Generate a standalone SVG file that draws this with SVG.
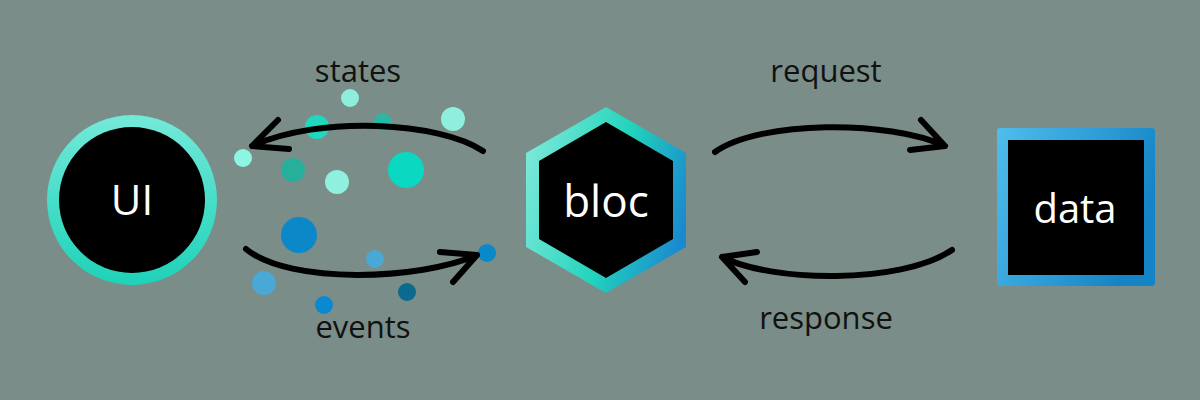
<svg xmlns="http://www.w3.org/2000/svg" width="1200" height="400" viewBox="0 0 1200 400">
<defs>
<linearGradient id="gUI" x1="0" y1="0" x2="0" y2="1">
<stop offset="0" stop-color="#74e9d9"/><stop offset="1" stop-color="#1ed2b8"/>
</linearGradient>
<linearGradient id="gHex" x1="0" y1="0.3" x2="1" y2="0.6">
<stop offset="0" stop-color="#7ae8d8"/><stop offset="0.55" stop-color="#22d4bc"/><stop offset="1" stop-color="#1a8ad0"/>
</linearGradient>
<linearGradient id="gData" x1="0" y1="0" x2="1" y2="0.4">
<stop offset="0" stop-color="#50bdec"/><stop offset="1" stop-color="#1484c6"/>
</linearGradient>
<style>
.lbl{font-family:"Open Sans","Noto Sans",sans-serif;font-size:31px;fill:#111;text-anchor:middle}
.nt{font-family:"Open Sans","Noto Sans",sans-serif;fill:#fff;text-anchor:middle}
.arr{fill:none;stroke:#000;stroke-width:6;stroke-linecap:round;stroke-linejoin:round}
</style>
</defs>
<rect width="1200" height="400" fill="#7a8d88"/>
<g id="dots">
<circle cx="350" cy="98" r="9" fill="#8eeedb"/>
<circle cx="317" cy="127" r="12" fill="#1fd8bd"/>
<circle cx="383" cy="122" r="9" fill="#2bb8a2"/>
<circle cx="453" cy="119" r="12" fill="#8ef0dc"/>
<circle cx="243" cy="158" r="9" fill="#8ff5e3"/>
<circle cx="293" cy="170" r="12" fill="#26b09c"/>
<circle cx="337" cy="182" r="12" fill="#90f0df"/>
<circle cx="406" cy="170" r="18" fill="#0ad8c0"/>
<circle cx="299" cy="235" r="18" fill="#0a88c8"/>
<circle cx="375" cy="259" r="9" fill="#4aa8d6"/>
<circle cx="487" cy="253" r="9" fill="#0a88c8"/>
<circle cx="264" cy="283" r="12" fill="#4aa8d6"/>
<circle cx="324" cy="305" r="9" fill="#0a88d0"/>
<circle cx="407" cy="292" r="9" fill="#0b6a8e"/>
</g>
<g id="connectors">
<path class="arr" d="M483,151 C440,122 320,115 252,146 M278,120 L252,146 L289,149"/>
<path class="arr" d="M246,249 C290,285 420,280 477,255 M440,252 L477,255 L453,282"/>
<path class="arr" d="M715,152 C760,120 890,120 945,146 M921,120 L945,146 L910,150"/>
<path class="arr" d="M952,250 C900,285 770,282 722,257 M757,252 L722,257 L745,282"/>
</g>
<g id="labels">
<text class="lbl" x="358" y="82">states</text>
<text class="lbl" x="363" y="338">events</text>
<text class="lbl" x="826" y="82">request</text>
<text class="lbl" x="826" y="329">response</text>
</g>
<g id="ui">
<circle cx="132" cy="200" r="85" fill="url(#gUI)"/>
<circle cx="132" cy="200" r="73" fill="#000"/>
<text class="nt" x="132" y="215" font-size="42">UI</text>
</g>
<g id="bloc">
<polygon points="606,107 686,153 686,247 606,293 526,247 526,153" fill="url(#gHex)"/>
<polygon points="606,122 673,161 673,239 606,278 539,239 539,161" fill="#000"/>
<text class="nt" x="606" y="217" font-size="44">bloc</text>
</g>
<g id="data">
<rect x="997" y="128" width="158" height="158" rx="3" fill="url(#gData)"/>
<rect x="1008" y="140" width="136" height="135" fill="#000"/>
<text class="nt" x="1075" y="223" font-size="40">data</text>
</g>
</svg>
